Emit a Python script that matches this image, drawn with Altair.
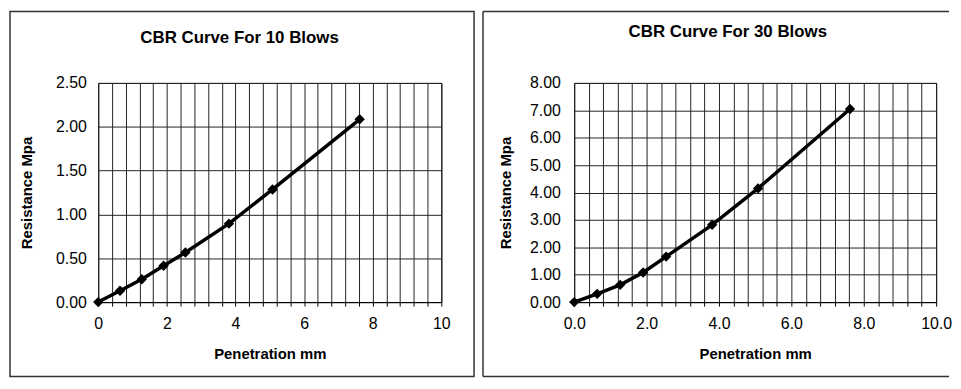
import altair as alt
import pandas as pd

# ---- data ----
PENETRATION = [0, 0.635, 1.27, 1.905, 2.54, 3.81, 5.08, 7.62]
RES_10_BLOWS = [0, 0.13, 0.26, 0.415, 0.565, 0.895, 1.285, 2.085]
RES_30_BLOWS = [0, 0.30, 0.63, 1.08, 1.66, 2.82, 4.15, 7.05]

X_GRID = [0, 0.4, 0.8, 1.2, 1.6, 2.0, 2.4, 2.8, 3.2, 3.6, 4.0, 4.4, 4.8,
          5.2, 5.6, 6.0, 6.4, 6.8, 7.2, 7.6, 8.0, 8.4, 8.8, 9.2, 9.6, 10.0]
Y_TICKS_10 = [0, 0.5, 1.0, 1.5, 2.0, 2.5]
Y_TICKS_30 = [0, 1, 2, 3, 4, 5, 6, 7, 8]

TITLES = ["CBR Curve For 10 Blows", "CBR Curve For 30 Blows"]
X_TITLE = "Penetration mm"
Y_TITLE = "Resistance Mpa"

FONT = "Liberation Sans"
FRAME = "#333333"


def frame_rule(x, x2, y, y2):
    return alt.Chart(pd.DataFrame({"b": [0]})).mark_rule(
        color=FRAME, strokeWidth=1.5
    ).encode(x=alt.value(x), x2=alt.value(x2), y=alt.value(y), y2=alt.value(y2))


def panel(res, yticks, ymax, xfmt, width, title, title_dx, title_off,
          box, ylab_pad, ytitle_pad, open_right=False):
    df = pd.DataFrame({"pen": PENETRATION, "res": res})
    x = alt.X(
        "pen:Q",
        scale=alt.Scale(domain=[0, 10], nice=False, zero=False),
        axis=alt.Axis(
            values=X_GRID,
            title=X_TITLE,
            labelExpr=f"datum.value % 2 == 0 ? format(datum.value, '{xfmt}') : ''",
            labelOverlap=False,
            labelFlush=False,
            tickSize=4,
            labelPadding=10,
            titlePadding=15,
        ),
    )
    y = alt.Y(
        "res:Q",
        scale=alt.Scale(domain=[0, ymax], nice=False),
        axis=alt.Axis(
            values=yticks,
            format=".2f",
            title=Y_TITLE,
            ticks=False,
            tickSize=0,
            domain=False,
            labelPadding=ylab_pad,
            titlePadding=ytitle_pad,
            labelOverlap=False,
        ),
    )
    base = alt.Chart(df).encode(x=x, y=y)
    line = base.mark_line(color="black", strokeWidth=3.5)
    pts = base.mark_point(shape="diamond", filled=True, color="black",
                          size=110, opacity=1)
    x0, x1, y0, y1 = box
    if open_right:
        borders = [
            frame_rule(x0, x0, y0, y1),
            frame_rule(x0, x1, y0, y0),
            frame_rule(x0, x1, y1, y1),
        ]
    else:
        borders = [
            alt.Chart(pd.DataFrame({"b": [0]})).mark_rect(
                fillOpacity=0, stroke=FRAME, strokeWidth=1.5
            ).encode(
                x=alt.value(x0), x2=alt.value(x1),
                y=alt.value(y0), y2=alt.value(y1),
            )
        ]
    return alt.layer(*borders, line, pts).properties(
        width=width,
        height=221,
        title=alt.TitleParams(
            title,
            anchor="middle",
            frame="bounds",
            baseline="alphabetic",
            offset=title_off,
            dx=title_dx,
            font=FONT,
            fontSize=17,
            fontWeight="bold",
            color="black",
        ),
    )


left = panel(RES_10_BLOWS, Y_TICKS_10, 2.5, "d", 346, TITLES[0], -2.5, -49.75,
             (-89, 379, -72, 296), 12, 21)
right = panel(RES_30_BLOWS, Y_TICKS_30, 8, ".1f", 365, TITLES[1], 11, -43.75,
              (-92, 378, -72, 296), 14, 16, open_right=True)

chart = alt.hconcat(left, right, spacing=5).properties(
    padding=0
).configure_view(
    stroke="black", strokeWidth=1
).configure_axis(
    gridColor="#222222",
    gridWidth=1,
    gridOpacity=1,
    domainColor="black",
    tickColor="black",
    labelFont=FONT,
    labelFontSize=16,
    labelColor="black",
    titleFont=FONT,
    titleFontSize=15,
    titleFontWeight="bold",
    titleColor="black",
)

chart.save("out.html", embed_options={"renderer": "svg", "actions": False})
